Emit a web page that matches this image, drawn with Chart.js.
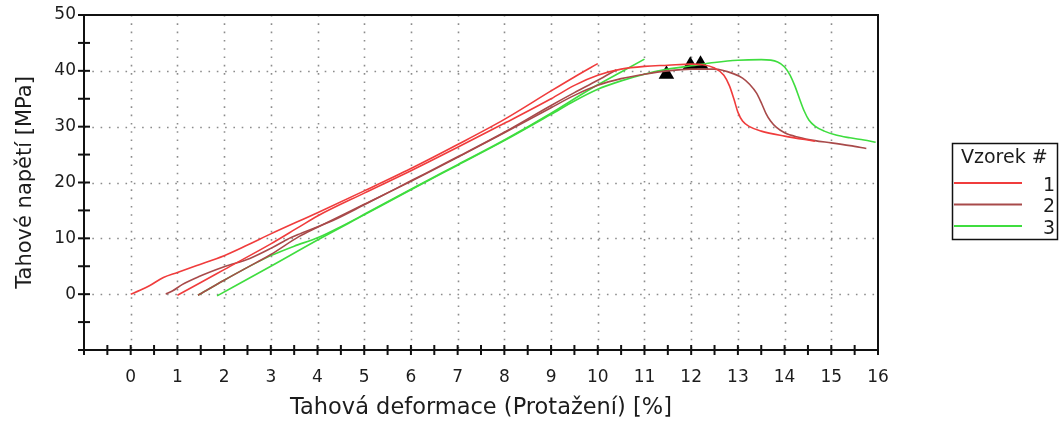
<!DOCTYPE html>
<html>
<head>
<meta charset="utf-8">
<script src="https://cdn.jsdelivr.net/npm/chart.js@4/dist/chart.umd.min.js"></script>
<style>
  html, body { margin: 0; padding: 0; background: #ffffff; }
  #wrap { width: 1062px; height: 425px; }
</style>
</head>
<body>
<div id="wrap"><canvas id="c" width="1062" height="425"></canvas></div>
<script>
// Tahová zkouška – tři vzorky, dva průběhy na vzorek (deformace v %, napětí v MPa)
const seriesNames = ['1', '2', '3'];
const seriesColors = ['#f03c3c', '#a84a4a', '#3fdd3f'];

// Vzorek 1
const s1aX = [0, 0.2, 0.4, 0.7, 1.0, 1.4, 2.0, 2.5, 3.0, 4.0, 5.0, 6.0, 7.0, 8.0, 9.0, 9.5, 10.0];
const s1aY = [0, 0.7, 1.5, 3.0, 3.9, 5.1, 6.9, 8.8, 10.8, 14.6, 18.5, 22.5, 26.8, 31.3, 36.4, 38.9, 41.3];
const s1bX = [1.0, 1.5, 2.0, 3.0, 3.6, 4.0, 5.0, 6.0, 7.0, 8.0, 9.0, 9.5, 10.0, 10.5, 11.0, 11.5, 12.0, 12.25, 12.5, 12.7, 12.82, 12.92, 13.0, 13.1, 13.25, 13.5, 14.0, 14.65];
const s1bY = [-0.2, 2.1, 4.4, 9.0, 12.0, 14.0, 18.1, 22.1, 26.3, 30.6, 35.0, 37.4, 39.2, 40.3, 40.8, 41.0, 41.2, 41.1, 40.5, 39.2, 37.3, 34.8, 32.6, 31.0, 30.0, 29.2, 28.3, 27.4];

// Vzorek 2
const s2aX = [0.75, 0.9, 1.1, 1.45, 2.0, 2.55, 3.0, 3.35, 3.62, 4.33, 5.0, 6.0, 7.0, 8.0, 9.0, 9.5, 10.0, 10.4];
const s2aY = [0, 0.6, 1.7, 3.1, 4.9, 6.4, 8.2, 9.8, 10.8, 13.2, 16.0, 20.3, 24.6, 29.0, 33.8, 36.1, 38.3, 40.2];
const s2bX = [1.44, 2.0, 2.5, 3.0, 3.6, 4.0, 5.0, 6.0, 7.0, 8.0, 9.0, 9.5, 10.0, 10.5, 11.0, 11.5, 12.0, 12.5, 12.9, 13.1, 13.25, 13.4, 13.5, 13.6, 13.7, 13.82, 14.0, 14.3, 14.65, 15.0, 15.4, 15.75];
const s2bY = [-0.2, 2.5, 4.8, 7.1, 10.3, 12.0, 16.1, 20.2, 24.5, 28.9, 33.4, 35.6, 37.4, 38.6, 39.4, 40.0, 40.3, 40.3, 39.5, 38.7, 37.6, 36.0, 34.3, 32.4, 31.0, 29.9, 28.9, 28.1, 27.5, 27.1, 26.6, 26.1];

// Vzorek 3
const s3aX = [1.44, 2.0, 2.5, 3.0, 3.5, 4.0, 4.5, 5.0, 6.0, 7.0, 8.0, 9.0, 9.5, 10.0, 10.5, 11.0];
const s3aY = [-0.2, 2.5, 4.8, 6.9, 8.6, 10.1, 12.1, 14.3, 18.8, 23.2, 27.6, 32.4, 35.0, 37.5, 39.8, 42.1];
const s3bX = [1.85, 3.0, 4.0, 5.0, 6.0, 7.0, 8.0, 9.0, 9.5, 10.0, 10.5, 11.0, 11.5, 12.0, 12.5, 13.0, 13.5, 13.85, 14.0, 14.12, 14.22, 14.32, 14.42, 14.52, 14.65, 14.85, 15.1, 15.4, 15.7, 15.95];
const s3bY = [-0.3, 5.0, 9.7, 14.2, 18.7, 23.1, 27.5, 32.2, 34.6, 36.7, 38.2, 39.4, 40.3, 40.9, 41.5, 41.9, 42.0, 41.6, 40.7, 39.2, 37.3, 35.0, 32.8, 31.2, 30.1, 29.2, 28.5, 28.0, 27.6, 27.2];

// Body maxima (trojúhelníky)
const peakX = [11.47, 11.98, 12.2];
const peakY = [39.4, 41.0, 41.2];

// Popisky os
const xTitle = 'Tahová deformace (Protažení) [%]';
const yTitle = 'Tahové napětí [MPa]';
const legendTitle = 'Vzorek #';
const xTickLabels = [0, 1, 2, 3, 4, 5, 6, 7, 8, 9, 10, 11, 12, 13, 14, 15, 16];
const yTickLabels = [0, 10, 20, 30, 40, 50];

const toPoints = (xs, ys) => xs.map((x, i) => ({ x: x, y: ys[i] }));

const curve = (xs, ys, colorIndex) => ({
  label: seriesNames[colorIndex],
  data: toPoints(xs, ys),
  borderColor: seriesColors[colorIndex],
  borderWidth: 1.6,
  pointRadius: 0,
  fill: false,
  cubicInterpolationMode: 'monotone',
  tension: 0.4
});

const FONT = '"DejaVu Sans", Verdana, sans-serif';
const TEXT = '#1c1c1c';

// Mřížka, osy, značky a legenda kreslené přes měřítka grafu
const framePlugin = {
  id: 'frame',
  beforeDatasetsDraw(chart) {
    const { ctx, chartArea: a, scales: { x, y } } = chart;
    ctx.save();
    ctx.strokeStyle = '#8c8c8c';
    ctx.lineWidth = 1.6;
    ctx.setLineDash([1.6, 6.7]);
    for (let v = 0; v <= 15; v++) {
      const px = Math.round(x.getPixelForValue(v)) + 0.5;
      ctx.beginPath(); ctx.moveTo(px, a.top); ctx.lineTo(px, a.bottom); ctx.stroke();
    }
    for (let v = 0; v <= 40; v += 10) {
      const py = Math.round(y.getPixelForValue(v)) + 0.5;
      ctx.beginPath(); ctx.moveTo(a.left, py); ctx.lineTo(a.right, py); ctx.stroke();
    }
    ctx.restore();
  },
  afterDatasetsDraw(chart) {
    const { ctx, chartArea: a, scales: { x, y } } = chart;
    ctx.save();
    ctx.strokeStyle = '#111';
    ctx.lineWidth = 2;
    ctx.strokeRect(a.left, a.top, a.right - a.left, a.bottom - a.top);
    for (let v = -1; v <= 16.001; v += 0.5) {
      const px = x.getPixelForValue(v);
      ctx.beginPath(); ctx.moveTo(px, a.bottom - 5); ctx.lineTo(px, a.bottom + 5); ctx.stroke();
    }
    for (let v = -10; v <= 50; v += 5) {
      const py = y.getPixelForValue(v);
      ctx.beginPath(); ctx.moveTo(a.left - 6, py); ctx.lineTo(a.left + (v === 50 ? 0 : 6), py); ctx.stroke();
    }
    ctx.restore();
  },
  afterDraw(chart) {
    const { ctx } = chart;
    ctx.save();
    ctx.strokeStyle = '#111';
    ctx.lineWidth = 1.5;
    ctx.strokeRect(952.5, 143.5, 105, 96);
    ctx.fillStyle = TEXT;
    ctx.font = '19px ' + FONT;
    ctx.textBaseline = 'middle';
    ctx.textAlign = 'left';
    ctx.fillText(legendTitle, 961, 158);
    const rows = [183, 204.5, 226];
    seriesNames.forEach((name, i) => {
      ctx.strokeStyle = seriesColors[i];
      ctx.lineWidth = 2;
      ctx.beginPath(); ctx.moveTo(954, rows[i]); ctx.lineTo(1022, rows[i]); ctx.stroke();
      ctx.textAlign = 'right';
      ctx.fillText(name, 1055, rows[i] + 3);
    });
    ctx.restore();
  }
};

new Chart(document.getElementById('c'), {
  type: 'line',
  data: {
    datasets: [
      curve(s1aX, s1aY, 0),
      curve(s1bX, s1bY, 0),
      curve(s2aX, s2aY, 1),
      curve(s2bX, s2bY, 1),
      curve(s3aX, s3aY, 2),
      curve(s3bX, s3bY, 2),
      {
        label: 'max',
        type: 'scatter',
        data: toPoints(peakX, peakY),
        pointStyle: 'triangle',
        pointRadius: 9,
        backgroundColor: '#000',
        borderColor: '#000',
        borderWidth: 0,
        showLine: false
      }
    ]
  },
  options: {
    responsive: false,
    animation: false,
    events: [],
    layout: { padding: { top: 15, right: 184, left: 0, bottom: 0 } },
    plugins: { legend: { display: false }, tooltip: { enabled: false } },
    scales: {
      x: {
        type: 'linear', min: -1, max: 16,
        grid: { display: false, drawTicks: false },
        border: { display: false },
        afterFit: s => { s.height = 75; s.paddingLeft = 0; s.paddingRight = 0; },
        afterBuildTicks: s => { s.ticks = xTickLabels.map(v => ({ value: v })); },
        ticks: {
          autoSkip: false, maxRotation: 0, padding: 17,
          color: TEXT, font: { family: FONT, size: 17 },
          callback: v => String(v)
        },
        title: {
          display: true, text: xTitle, color: TEXT,
          font: { family: FONT, size: 22.5 }, padding: { top: 0, bottom: 3 }
        }
      },
      y: {
        type: 'linear', min: -10, max: 50,
        grid: { display: false, drawTicks: false },
        border: { display: false },
        afterFit: s => { s.width = 84; s.paddingTop = 0; s.paddingBottom = 0; },
        afterBuildTicks: s => { s.ticks = yTickLabels.map(v => ({ value: v })); },
        ticks: {
          padding: 8, color: TEXT, font: { family: FONT, size: 17 },
          callback: v => String(v)
        },
        title: {
          display: true, text: yTitle, color: TEXT,
          font: { family: FONT, size: 21 }, padding: { top: 13, bottom: 0 }
        }
      }
    }
  },
  plugins: [framePlugin]
});
</script>
</body>
</html>
